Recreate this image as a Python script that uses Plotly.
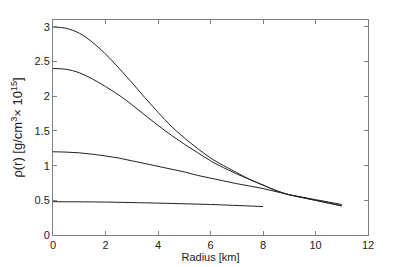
import plotly.graph_objects as go

radius_a = [0, 0.5, 1, 1.5, 2, 2.5, 3, 3.5, 4, 4.5, 5, 5.5, 6, 6.5, 7, 7.5, 8, 8.5, 9, 9.5, 10, 10.5, 11]
rho_300 = [3.00, 2.98, 2.91, 2.78, 2.61, 2.41, 2.20, 1.98, 1.77, 1.57, 1.40, 1.25, 1.11, 1.00, 0.90, 0.80, 0.72, 0.64, 0.58, 0.54, 0.50, 0.46, 0.42]
rho_240 = [2.40, 2.39, 2.34, 2.25, 2.14, 2.02, 1.88, 1.73, 1.58, 1.44, 1.31, 1.19, 1.07, 0.97, 0.88, 0.80, 0.72, 0.64, 0.58, 0.54, 0.50, 0.46, 0.42]
rho_120 = [1.20, 1.195, 1.185, 1.165, 1.14, 1.11, 1.07, 1.03, 0.99, 0.95, 0.91, 0.86, 0.82, 0.78, 0.74, 0.705, 0.67, 0.625, 0.58, 0.545, 0.51, 0.475, 0.44]
radius_b = [0, 2, 4, 6, 8]
rho_048 = [0.48, 0.475, 0.46, 0.44, 0.41]

x_ticks = [0, 2, 4, 6, 8, 10, 12]
y_ticks = [0, 0.5, 1, 1.5, 2, 2.5, 3]
y_tick_labels = ["0", "0.5", "1", "1.5", "2", "2.5", "3"]

fig = go.Figure()
for xs, ys in [(radius_a, rho_300), (radius_a, rho_240), (radius_a, rho_120), (radius_b, rho_048)]:
    fig.add_trace(go.Scatter(x=xs, y=ys, mode="lines",
                             line=dict(color="#222222", width=1, shape="spline", smoothing=1),
                             showlegend=False, hoverinfo="skip"))

axis_common = dict(showline=True, linecolor="#808080", linewidth=1, mirror="ticks",
                   ticks="inside", ticklen=4, tickcolor="#808080", showgrid=False,
                   zeroline=False, automargin=False,
                   tickfont=dict(family="Liberation Sans, Arial", size=11, color="#222222"))

# page body has an 8px default margin, so the figure is sized to fit the window after that offset
fig.update_layout(
    width=401, height=259,
    margin=dict(l=45, r=41, t=12, b=32, autoexpand=False),
    paper_bgcolor="white", plot_bgcolor="white",
    xaxis=dict(range=[0, 12], tickvals=x_ticks, ticktext=[str(v) for v in x_ticks],
               title=dict(text="Radius [km]", standoff=1,
                          font=dict(family="Liberation Sans, Arial", size=11, color="#222222")),
               **axis_common),
    yaxis=dict(range=[0, 3.1], tickvals=y_ticks, ticktext=y_tick_labels,
               title=dict(text="ρ(r) [g/cm<sup>3</sup>× 10<sup>15</sup>]", standoff=8,
                          font=dict(family="Liberation Sans, Arial", size=13, color="#222222")),
               **axis_common),
)

fig.write_html("out.html")
